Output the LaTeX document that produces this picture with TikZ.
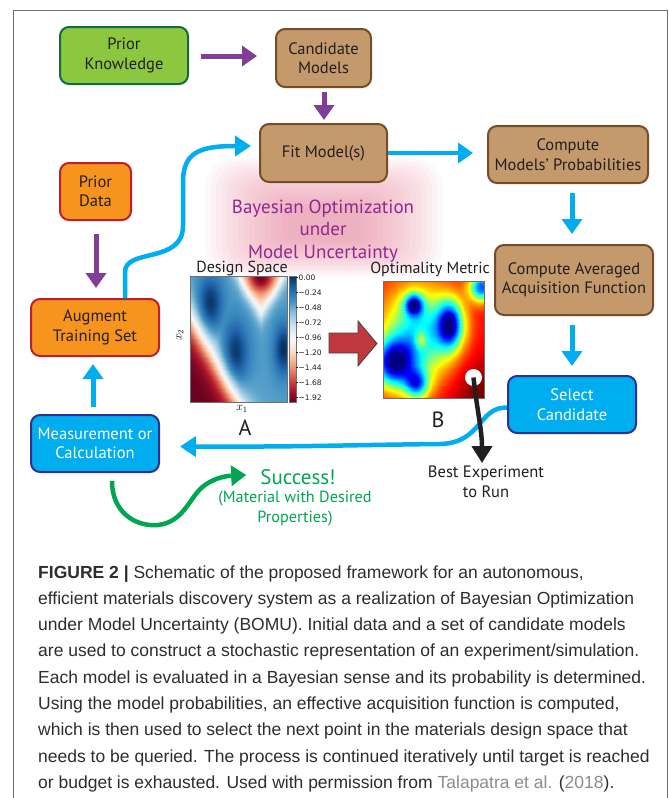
\documentclass[tikz,border=0pt]{standalone}
\usepackage{fontspec}
\setmainfont{PT Sans}
\newfontfamily\capfont{Liberation Sans}
\newfontfamily\mplfont{DejaVu Sans}
\usepackage{pgfplots}
\pgfplotsset{compat=1.18}
\usetikzlibrary{arrows.meta,calc}

\definecolor{kgreen}{RGB}{141,198,63}
\definecolor{kgreenB}{RGB}{16,110,60}
\definecolor{kbrown}{RGB}{196,154,108}
\definecolor{kbrownB}{RGB}{117,76,41}
\definecolor{korange}{RGB}{247,148,29}
\definecolor{korangeB}{RGB}{190,30,45}
\definecolor{kblue}{RGB}{0,174,239}
\definecolor{kblueB}{RGB}{46,49,146}
\definecolor{kpurple}{RGB}{127,63,152}
\definecolor{ktext}{RGB}{35,31,32}
\definecolor{kgreenA}{RGB}{0,166,81}
\definecolor{kpink}{RGB}{235,125,155}
\definecolor{ktitle}{RGB}{146,39,143}
\definecolor{kred}{RGB}{193,57,63}
\definecolor{capgray}{RGB}{45,45,45}
\definecolor{capgray2}{RGB}{140,140,140}
\definecolor{framegray}{RGB}{110,110,110}

\definecolor{cb0}{RGB}{103,0,31}
\definecolor{cb1}{RGB}{178,24,43}
\definecolor{cb2}{RGB}{214,96,77}
\definecolor{cb3}{RGB}{244,165,130}
\definecolor{cb4}{RGB}{253,219,199}
\definecolor{cb5}{RGB}{247,247,247}
\definecolor{cb6}{RGB}{209,229,240}
\definecolor{cb7}{RGB}{146,197,222}
\definecolor{cb8}{RGB}{67,147,195}
\definecolor{cb9}{RGB}{33,102,172}
\definecolor{cb10}{RGB}{5,48,97}
\pgfdeclareverticalshading{rdbushade}{100bp}{color(0bp)=(cb0); color(25bp)=(cb0); color(30bp)=(cb1); color(35bp)=(cb2); color(40bp)=(cb3); color(45bp)=(cb4); color(50bp)=(cb5); color(55bp)=(cb6); color(60bp)=(cb7); color(65bp)=(cb8); color(70bp)=(cb9); color(75bp)=(cb10); color(100bp)=(cb10)}

\pgfplotsset{colormap={rdbu}{rgb255=(103,0,31) rgb255=(178,24,43) rgb255=(214,96,77) rgb255=(244,165,130) rgb255=(253,219,199) rgb255=(247,247,247) rgb255=(209,229,240) rgb255=(146,197,222) rgb255=(67,147,195) rgb255=(33,102,172) rgb255=(5,48,97)}}

\begin{document}
\begin{tikzpicture}[x=1pt,y=-1pt,
  boxbase/.style={line width=2pt, rounded corners=9pt, align=center,
    font=\fontsize{16.5}{19.5}\selectfont, inner sep=0pt},
  greenbox/.style={boxbase, fill=kgreen, draw=kgreenB, text=ktext},
  brownbox/.style={boxbase, fill=kbrown, draw=kbrownB, text=ktext},
  orangebox/.style={boxbase, fill=korange, draw=korangeB, text=ktext},
  bluebox/.style={boxbase, fill=kblue, draw=kblueB, text=white},
  parrow/.style={kpurple, line width=5pt, -{Triangle[length=15pt,width=20pt]}},
  barrow/.style={kblue, line width=5pt, -{Triangle[length=15pt,width=20pt]}},
  bcurve/.style={kblue, line width=4.5pt, -{Triangle[length=16pt,width=20pt]}},
  gcurve/.style={kgreenA, line width=4.5pt, -{Triangle[length=15pt,width=20pt]}},
  kcurve/.style={ktext, line width=4.5pt, -{Triangle[length=17pt,width=20pt]}},
  lbl/.style={inner sep=0pt, text=ktext, font=\fontsize{16}{18}\selectfont},
  plotframe/.style={draw=framegray, line width=0.8pt},
  tick/.style={inner sep=0pt, anchor=west, font=\mplfont\fontsize{7.5}{8}\selectfont, text=ktext},
  capline/.style={anchor=base west, inner sep=0pt, font=\capfont\fontsize{17.5}{20}\selectfont, text=capgray}
]
\useasboundingbox (0,0) rectangle (669,798);
\fill[white] (0,0) rectangle (669,798);
\draw[framegray, line width=1pt] (13,798) -- (13,10.5) -- (667,10.5) -- (667,798);

% pink glow
\foreach \k in {0,...,15}{
  \fill[kpink, opacity=0.05, rounded corners={30pt-\k*1.5pt}] ({205+\k*5.5},{158+\k*3.3}) rectangle ({443-\k*5.5},{276-\k*2.4});
}

% boxes
\node[greenbox, minimum width=128pt, minimum height=57pt] (pk) at (124,55.5) {Prior\\Knowledge};
\node[brownbox, minimum width=95pt, minimum height=58pt] (cm) at (323.5,58) {Candidate\\Models};
\node[brownbox, minimum width=127pt, minimum height=58pt] (fit) at (323.5,153) {Fit Model(s)};
\node[brownbox, minimum width=160pt, minimum height=57pt] (cmp) at (568,154.5) {Compute\\Models’ Probabilities};
\node[brownbox, minimum width=158pt, minimum height=70pt] (caf) at (574,280) {Compute Averaged\\Acquisition Function};
\node[bluebox, minimum width=128pt, minimum height=57pt] (sel) at (572,404.5) {Select\\Candidate};
\node[orangebox, minimum width=71pt, minimum height=57pt] (pd) at (95.5,191.5) {Prior\\Data};
\node[orangebox, minimum width=128pt, minimum height=57pt] (ats) at (95,327.5) {Augment\\Training Set};
\node[bluebox, minimum width=128pt, minimum height=57pt] (mc) at (95,443.5) {Measurement or\\Calculation};

% title
\node[inner sep=0pt, align=center, text=ktitle, font=\fontsize{19}{22.5}\selectfont] (bomu) at (323,231) {Bayesian Optimization\\under\\Model Uncertainty};

% straight arrows
\draw[parrow] ($(pk.east)+(12,0.5)$) -- ($(cm.west)+(-18,-2)$);
\draw[parrow] ($(cm.south)+(0.5,4)$) -- ($(fit.north)+(0.5,-3)$);
\draw[barrow, line width=4pt] (fit.east) -- ($(cmp.west)+(-14,-1.5)$);
\draw[barrow] ($(cmp.south)+(4,9)$) -- ($(caf.north)+(-2,-10)$);
\draw[barrow] ($(caf.south)+(-2,9)$) -- ($(sel.north)+(0,-9)$);
\draw[parrow] ($(pd.south)+(0.5,13)$) -- ($(ats.north)+(1,-10)$);
\draw[barrow] ($(mc.north)+(-2,-7)$) -- ($(ats.south)+(-2,7)$);

% curved arrows
\draw[bcurve] ($(ats.north)+(30,0)$) -- (125,272) .. controls (125,248) and (183,264) .. (183,226) -- (183,182) .. controls (183,152) and (200,146) .. ($(fit.west)+(-8,-7)$);
\draw[bcurve] ($(sel.west)+(0,3)$) .. controls (478,407) and (482,443) .. (440,444) .. controls (350,445) and (300,447) .. ($(mc.east)+(20,3)$);

% heatmap A
\begin{axis}[at={(190pt,-276pt)}, anchor=north west, width=97pt, height=126pt,
  scale only axis, hide axis, view={0}{90}, enlargelimits=false,
  colormap name=rdbu, point meta min=-1.92, point meta max=0]
\addplot3[surf, shader=interp, domain=0:1, y domain=0:1, samples=50]
 {-0.42 + 0.42*max(exp(0-((x-0.46)/0.14)^2-((y-0.38)/0.26)^2), exp(0-((x-0.2)/0.13)^2-((y-0.78)/0.22)^2), exp(0-((x-0.96)/0.1)^2-((y-0.42)/0.2)^2)) - 1.5*max(1/(1+exp((x/0.57+y/0.77-0.85)/0.13)), 0.5/(1+exp((abs(x-0.73)/0.3+(1-y)/0.4-0.8)/0.12)) + 0.5*exp(0-((x-0.73)/0.14)^2-((1-y)/0.13)^2))};
\end{axis}
\draw[plotframe] (190,276) rectangle (287,402);

% colorbar
\shade[shading=rdbushade] (289,276) rectangle (296,402);
\draw[plotframe] (289,276) rectangle (296,402);
\foreach \v [count=\i from 0] in {0.00,−0.24,−0.48,−0.72,−0.96,−1.20,−1.44,−1.68,−1.92}{
  \draw[ktext, line width=0.5pt] (296,{277.5+\i*15}) -- (298,{277.5+\i*15});
  \node[tick] (t\i) at (298.5,{277.5+\i*15}) {\v};
}

% heatmap B
\begin{axis}[at={(383pt,-281pt)}, anchor=north west, width=101pt, height=117pt,
  scale only axis, hide axis, view={0}{90}, enlargelimits=false,
  colormap/jet, point meta min=0, point meta max=1.05]
\addplot3[surf, shader=interp, domain=0:1, y domain=0:1, samples=50]
 {0.92 + 0.15*exp(0-((x-1)/0.35)^2-(y/0.35)^2)
  - 0.55*exp(0-((x-0.35)/0.35)^2-((y-0.55)/0.4)^2)
  - 0.65*exp(0-((x-0.30)/0.09)^2-((y-0.80)/0.09)^2)
  - 0.75*exp(0-((x-0.66)/0.13)^2-((y-0.63)/0.2)^2)
  - 0.7*exp(0-((x-0.97)/0.12)^2-((y-0.95)/0.12)^2)
  - 0.75*exp(0-((x-0.1)/0.2)^2-((y-0.3)/0.2)^2)
  - 0.55*exp(0-((x-0.33)/0.12)^2-((y-0.12)/0.12)^2)
  + 0.25*exp(0-((x-0.37)/0.06)^2-((y-0.5)/0.08)^2)};
\end{axis}
\draw[plotframe] (383,281) rectangle (484,398);

% red block arrow
\filldraw[fill=kred, draw=black!75, line width=0.8pt] (329,333) -- (358,333) -- (358,321) -- (377,343.5) -- (358,366) -- (358,353) -- (329,353) -- cycle;

% plot labels
\node[lbl] (ds) at (242,268) {Design Space};
\node[lbl] (om) at (430,269) {Optimality Metric};
\node[inner sep=0pt, rotate=90, font=\fontsize{12}{12}\selectfont] (x2) at (180,335) {$x_2$};
\node[inner sep=0pt, font=\fontsize{12}{12}\selectfont] (x1) at (242,409) {$x_1$};
\node[inner sep=0pt, text=ktext, font=\fontsize{22}{22}\selectfont] (la) at (245,428) {A};
\node[inner sep=0pt, text=ktext, font=\fontsize{22}{22}\selectfont] (lb) at (438,420) {B};

% best experiment
\fill[white] (473.5,377.5) circle (8.5);
\coordinate (bestpt) at (473.5,377.5);
\node[inner sep=0pt, anchor=north, align=center, text=ktext, font=\fontsize{16.5}{20}\selectfont] (best) at (486,466) {Best Experiment\\to Run};
\draw[kcurve] (bestpt) .. controls (477,410) and (482,430) .. ($(best.north)+(-4,-3)$);

% success
\node[inner sep=0pt, text=kgreenA, font=\fontsize{21}{24}\selectfont] (succ) at (298,477) {Success!};
\node[inner sep=0pt, anchor=north, align=center, text=kgreenA, font=\fontsize{16.2}{20}\selectfont] (mat) at (295,491) {(Material with Desired\\Properties)};
\draw[gcurve] ($(mc.south)+(17,8)$) .. controls (112,512) and (135,527) .. (158,525) .. controls (185,522) and (190,495) .. (205,485) .. controls (215,478) and (225,476) .. ($(succ.west)+(-14,-2)$);

% caption
\node[capline] (cap1) at (38,578) {\textbf{FIGURE 2 |} Schematic of the proposed framework for an autonomous,};
\node[capline] (cap2) at (38,604.3) {efficient materials discovery system as a realization of Bayesian Optimization};
\node[capline] (cap3) at (38,630.6) {under Model Uncertainty (BOMU). Initial data and a set of candidate models};
\node[capline] (cap4) at (38,656.9) {are used to construct a stochastic representation of an experiment/simulation.};
\node[capline] (cap5) at (38,683.2) {Each model is evaluated in a Bayesian sense and its probability is determined.};
\node[capline] (cap6) at (38,709.5) {Using the model probabilities, an effective acquisition function is computed,};
\node[capline] (cap7) at (38,735.8) {which is then used to select the next point in the materials design space that};
\node[capline] (cap8) at (38,762.1) {needs to be queried. The process is continued iteratively until target is reached};
\node[capline] (cap9) at (38,788.4) {or budget is exhausted. Used with permission from \textcolor{capgray2}{Talapatra et al.} (\textcolor{capgray2}{2018}).};
\end{tikzpicture}
\end{document}
